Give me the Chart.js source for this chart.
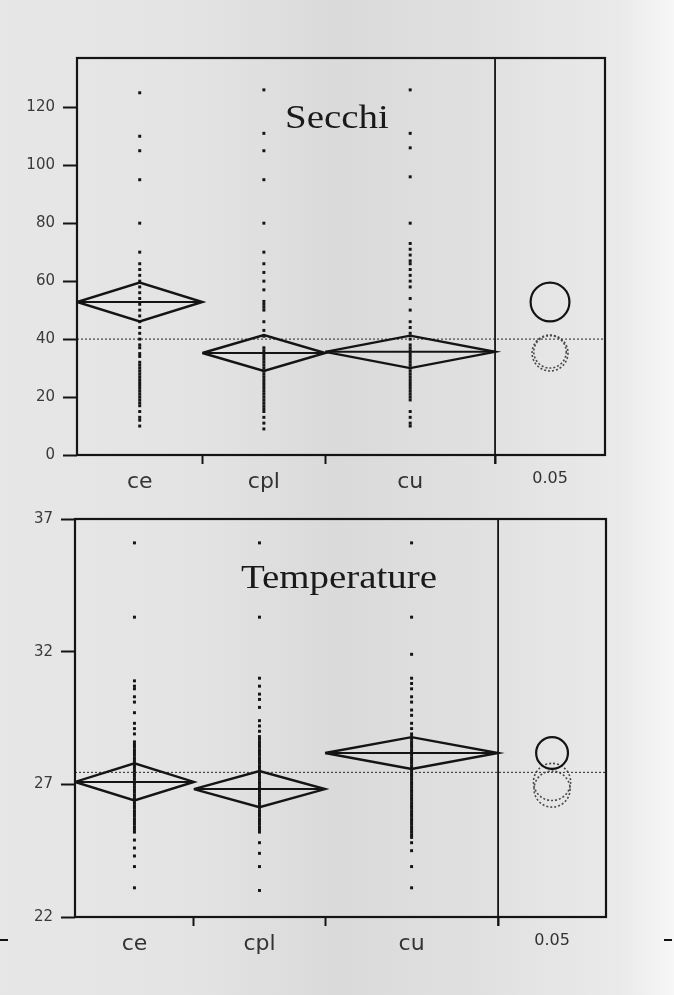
<!DOCTYPE html>
<html>
<head>
<meta charset="utf-8">
<title>Secchi and Temperature</title>
<style>
  html, body { margin: 0; padding: 0; }
  body {
    width: 674px; height: 995px; position: relative; overflow: hidden;
    background: linear-gradient(90deg, #e7e7e7 0%, #e3e3e3 30%, #dadada 50%, #e0e0e0 70%, #eaeaea 92%, #f7f7f7 100%);
  }
  canvas { position: absolute; left: 0; }
  #secchiChart { top: 0; }
  #tempChart { top: 500px; }
  .mark { position: absolute; top: 939px; width: 8px; height: 2px; background: #111; }
</style>
</head>
<body>
<canvas id="secchiChart" width="674" height="500"></canvas>
<canvas id="tempChart" width="674" height="495"></canvas>
<div class="mark" style="left:0"></div>
<div class="mark" style="left:664px"></div>
<script src="https://cdn.jsdelivr.net/npm/chart.js@4"></script>
<script>
var groups = ['ce', 'cpl', 'cu'];
var alphaLabel = '0.05';

// Secchi (cm)
var secchiShare = [0.30, 0.294, 0.406];
var secchiMeans = [52.8, 35.2, 35.6];
var secchiCI = [6.7, 6.2, 5.6];
var secchiGrand = 40.0;
var secchiTicks = [0, 20, 40, 60, 80, 100, 120];
var ceSecchi = [125, 110, 105, 95, 80, 70, 66, 64, 62, 60, 58, 56, 54, 52, 50, 48, 46, 44, 42, 40, 38, 37, 35, 34, 32, 31, 30, 29, 28, 27, 26, 25, 24, 23, 22, 21, 20, 19, 18, 17, 15, 13, 12, 10];
var cplSecchi = [126, 111, 105, 95, 80, 70, 66, 63, 60, 57, 53, 52, 51, 50, 46, 43, 41, 37, 36, 35, 34, 33, 32, 31, 30, 29, 28, 27, 26, 25, 24, 23, 22, 21, 20, 19, 18, 17, 16, 15, 13, 11, 9];
var cuSecchi = [126, 111, 106, 96, 80, 73, 71, 69, 67, 66, 64, 62, 60, 58, 54, 50, 46, 44, 42, 40, 38, 37, 36, 35, 34, 33, 32, 31, 30, 29, 28, 27, 26, 25, 24, 23, 22, 21, 20, 19, 15, 13, 11, 10];

// Temperature (C)
var tempShare = [0.281, 0.310, 0.409];
var tempMeans = [27.09, 26.82, 28.18];
var tempCI = [0.70, 0.68, 0.60];
var tempGrand = 27.45;
var tempTicks = [22, 27, 32, 37];
var ceTemp = [36.1, 33.3, 30.9, 30.7, 30.6, 30.3, 30.1, 29.7, 29.3, 29.1, 28.9, 28.6, 28.5, 28.4, 28.3, 28.2, 28.1, 28.0, 27.9, 27.8, 27.7, 27.6, 27.5, 27.4, 27.3, 27.2, 27.1, 27.0, 26.9, 26.8, 26.7, 26.6, 26.5, 26.4, 26.3, 26.2, 26.1, 26.0, 25.9, 25.8, 25.7, 25.6, 25.5, 25.4, 25.3, 25.2, 24.9, 24.6, 24.3, 23.9, 23.1];
var cplTemp = [36.1, 33.3, 31.0, 30.7, 30.4, 30.2, 29.9, 29.4, 29.2, 29.0, 28.8, 28.7, 28.6, 28.5, 28.4, 28.3, 28.2, 28.1, 28.0, 27.9, 27.8, 27.7, 27.6, 27.5, 27.4, 27.3, 27.2, 27.1, 27.0, 26.9, 26.8, 26.7, 26.6, 26.5, 26.4, 26.3, 26.2, 26.1, 26.0, 25.9, 25.8, 25.7, 25.6, 25.5, 25.4, 25.3, 25.2, 24.8, 24.4, 23.9, 23.0];
var cuTemp = [36.1, 33.3, 31.9, 31.0, 30.8, 30.6, 30.3, 30.1, 29.8, 29.6, 29.3, 29.1, 28.9, 28.8, 28.7, 28.6, 28.5, 28.4, 28.3, 28.2, 28.1, 28.0, 27.9, 27.8, 27.7, 27.6, 27.5, 27.4, 27.3, 27.2, 27.1, 27.0, 26.9, 26.8, 26.7, 26.6, 26.5, 26.4, 26.3, 26.2, 26.1, 26.0, 25.9, 25.8, 25.7, 25.6, 25.5, 25.4, 25.3, 25.2, 25.1, 25.0, 24.8, 24.5, 23.9, 23.1];

var INK = '#141414';

// dotted circles: set the dash before the dataset is drawn
var dashPlugin = {
  id: 'dash',
  beforeDatasetDraw: function (chart, args) {
    var ds = chart.data.datasets[args.index];
    if (ds.dotted) chart.ctx.setLineDash(ds.dotted);
  },
  afterDatasetDraw: function (chart) {
    chart.ctx.setLineDash([]);
  }
};

// frame around plot + panel separator + title text
var framePlugin = {
  id: 'frame',
  afterDraw: function (chart, args, opts) {
    var ctx = chart.ctx, a = chart.chartArea;
    var sep = chart.scales.x.getPixelForValue(1);
    ctx.save();
    ctx.strokeStyle = INK;
    ctx.lineWidth = 2.2;
    ctx.strokeRect(a.left, a.top, a.right - a.left, a.bottom - a.top);
    ctx.beginPath();
    ctx.lineWidth = 1.8;
    ctx.moveTo(sep, a.top);
    ctx.lineTo(sep, a.bottom + 9);
    ctx.stroke();
    ctx.fillStyle = '#1a1a1a';
    ctx.font = '33px "Liberation Serif"';
    ctx.textAlign = 'center';
    ctx.translate(a.left + opts.dx, a.top + opts.dy);
    ctx.scale(1.18, 1);
    ctx.fillText(opts.text, 0, 0);
    ctx.restore();
  }
};

function makePanel(id, p) {
  var bounds = [0];
  p.share.forEach(function (s, i) { bounds.push(bounds[i] + s); });
  var centers = p.share.map(function (s, i) { return bounds[i] + s / 2; });
  var circleX = 1 + p.panel / 2;

  var xTicks = [], xLabels = [];
  centers.forEach(function (c, i) {
    xTicks.push(c); xLabels.push(groups[i]);
    xTicks.push(bounds[i + 1]); xLabels.push('');
  });
  xTicks.push(circleX); xLabels.push(alphaLabel);

  var datasets = [];
  // raw points
  p.points.forEach(function (vals, i) {
    datasets.push({
      data: vals.map(function (v) { return { x: centers[i], y: v }; }),
      pointStyle: 'rect', pointRadius: 2.1, borderWidth: 0, backgroundColor: INK
    });
  });
  // means diamonds and mean lines
  p.means.forEach(function (m, i) {
    var l = bounds[i], r = bounds[i + 1], c = centers[i], ci = p.ci[i];
    datasets.push({
      showLine: true, pointRadius: 0, borderColor: INK, borderWidth: 2.4,
      data: [{ x: l, y: m }, { x: c, y: m + ci }, { x: r, y: m }, { x: c, y: m - ci }, { x: l, y: m }]
    });
    datasets.push({
      showLine: true, pointRadius: 0, borderColor: INK, borderWidth: 2,
      data: [{ x: l, y: m }, { x: r, y: m }]
    });
  });
  // grand mean
  datasets.push({
    showLine: true, pointRadius: 0, borderColor: '#444', borderWidth: 1.2, borderDash: [2, 2],
    data: [{ x: 0, y: p.grand }, { x: 1 + p.panel, y: p.grand }]
  });
  // comparison circles
  var radius = function (ctx) {
    var s = ctx.chart.scales.y;
    return Math.abs(s.getPixelForValue(ctx.raw.y) - s.getPixelForValue(ctx.raw.y + ctx.raw.ci));
  };
  var solid = [], dotted = [];
  p.means.forEach(function (m, i) {
    (i === p.highlight ? solid : dotted).push({ x: circleX, y: m, ci: p.ci[i] });
  });
  datasets.push({ data: solid, pointRadius: radius, borderColor: INK, borderWidth: 2.2, backgroundColor: 'rgba(0,0,0,0)' });
  datasets.push({ data: dotted, dotted: [2, 2], pointRadius: radius, borderColor: '#4a4a4a', borderWidth: 1.6, backgroundColor: 'rgba(0,0,0,0)' });

  return new Chart(document.getElementById(id), {
    type: 'scatter',
    data: { datasets: datasets },
    plugins: [dashPlugin, framePlugin],
    options: {
      responsive: false,
      animation: false,
      events: [],
      layout: { padding: { top: p.top, right: p.right, left: 0, bottom: 0 } },
      plugins: {
        legend: { display: false },
        tooltip: { enabled: false },
        frame: { text: p.title, dx: p.titleDx, dy: p.titleDy }
      },
      scales: {
        x: {
          type: 'linear', min: 0, max: 1 + p.panel,
          afterBuildTicks: function (s) { s.ticks = xTicks.map(function (v) { return { value: v }; }); },
          afterFit: function (s) { s.height = p.xHeight; },
          ticks: {
            autoSkip: false, maxRotation: 0, padding: 5, color: '#333',
            callback: function (v, i) { return xLabels[i]; },
            font: function (ctx) {
              return { family: 'DejaVu Sans', size: xLabels[ctx.index] === alphaLabel ? 16 : 22 };
            }
          },
          grid: {
            drawOnChartArea: false, tickLength: 9, tickWidth: 2,
            tickColor: function (ctx) { return xLabels[ctx.index] === '' ? INK : 'rgba(0,0,0,0)'; }
          },
          border: { display: false }
        },
        y: {
          min: p.yMin, max: p.yMax,
          afterBuildTicks: function (s) { s.ticks = p.yTicks.map(function (v) { return { value: v }; }); },
          afterFit: function (s) { s.width = p.left; },
          ticks: { color: '#3a3a3a', padding: 8, font: { family: 'DejaVu Sans', size: 15 } },
          grid: { drawOnChartArea: false, tickLength: 14, tickWidth: 2, tickColor: INK },
          border: { display: false }
        }
      }
    }
  });
}

makePanel('secchiChart', {
  share: secchiShare, means: secchiMeans, ci: secchiCI, grand: secchiGrand,
  points: [ceSecchi, cplSecchi, cuSecchi], yTicks: secchiTicks, yMin: 0, yMax: 137,
  highlight: 0, panel: 0.263, title: 'Secchi', titleDx: 260, titleDy: 70,
  top: 58, right: 69, left: 77, xHeight: 45
});

makePanel('tempChart', {
  share: tempShare, means: tempMeans, ci: tempCI, grand: tempGrand,
  points: [ceTemp, cplTemp, cuTemp], yTicks: tempTicks, yMin: 22, yMax: 37,
  highlight: 2, panel: 0.255, title: 'Temperature', titleDx: 264, titleDy: 69,
  top: 19, right: 68, left: 75, xHeight: 78
});
</script>
</body>
</html>
